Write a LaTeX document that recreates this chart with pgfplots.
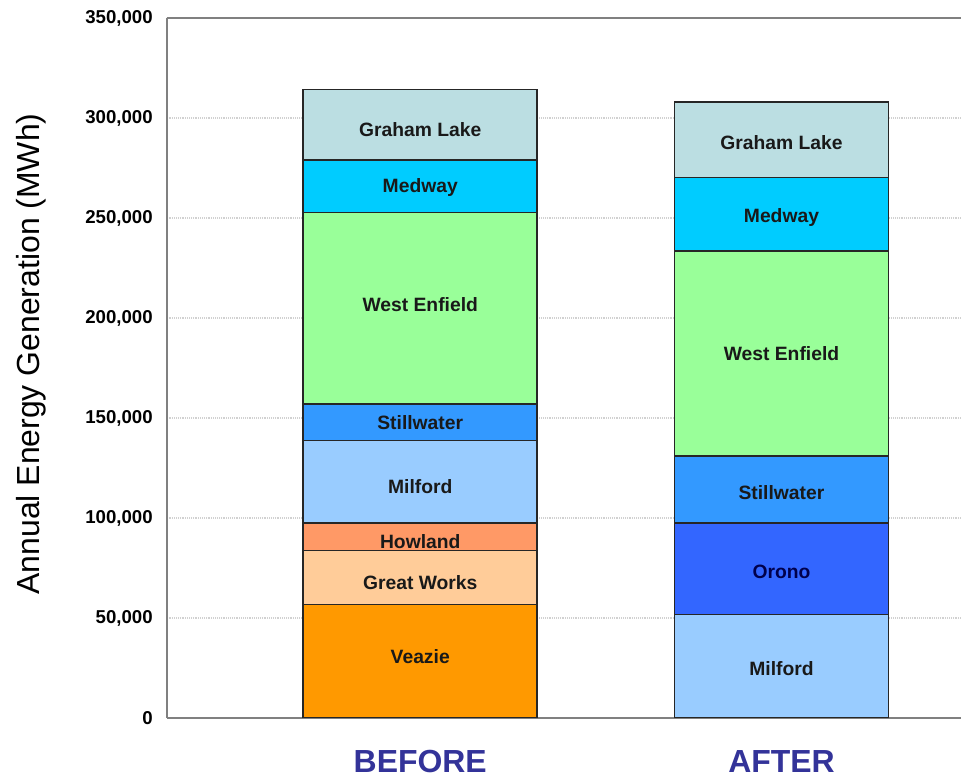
\documentclass[border=0pt]{standalone}
\usepackage{fontspec}
\setmainfont{Liberation Sans}
\usepackage{pgfplots}
\pgfplotsset{compat=1.18}

\definecolor{cGraham}{RGB}{187,222,226}
\definecolor{cMedway}{RGB}{0,204,255}
\definecolor{cEnfield}{RGB}{153,255,153}
\definecolor{cStill}{RGB}{51,153,255}
\definecolor{cMilford}{RGB}{153,204,255}
\definecolor{cHowland}{RGB}{255,153,102}
\definecolor{cGreat}{RGB}{255,204,153}
\definecolor{cVeazie}{RGB}{255,153,0}
\definecolor{cOrono}{RGB}{51,102,255}
\definecolor{cCat}{RGB}{51,51,153}

\newcommand{\lbl}{\fontsize{14.5}{16}\selectfont\bfseries}

\pgfplotsset{
  panel/.style={
    width=597pt, height=526.1pt, scale only axis,
    xmin=-0.702, xmax=1.497, ymin=0, ymax=350000,
    ybar stacked,
    every axis plot/.append style={draw=black!85, line width=1.3pt},
  }
}

\begin{document}
\begin{tikzpicture}
% BEFORE bar, axes and labels
\begin{axis}[
  panel,
  bar width=0.648,
  axis x line=box, axis y line=left,
  axis line style={-, draw=gray, line width=1.5pt},
  major tick length=0pt,
  ytick={0,50000,100000,150000,200000,250000,300000,350000},
  scaled y ticks=false,
  /pgf/number format/fixed,
  /pgf/number format/precision=0,
  /pgf/number format/1000 sep={,},
  /pgf/number format/assume math mode=true,
  yticklabel style={font=\fontsize{14}{16}\selectfont\bfseries, xshift=-7pt},
  ymajorgrids, grid style={densely dotted, black!18, line width=0.8pt},
  xtick={0,1}, xticklabels={BEFORE,\raisebox{-3pt}{AFTER}},
  xticklabel style={font=\fontsize{24}{27}\selectfont\bfseries, text=cCat, yshift=-21pt},
  ylabel={Annual Energy Generation (MWh)},
  every axis y label/.style={at={(axis description cs:-0.170,0.52)}, rotate=90,
    anchor=center, font=\fontsize{24}{28}\selectfont},
]
\addplot[fill=cVeazie]  coordinates {(0,56700)};
\addplot[fill=cGreat]   coordinates {(0,27100)};
\addplot[fill=cHowland] coordinates {(0,13800)};
\addplot[fill=cMilford] coordinates {(0,41100)};
\addplot[fill=cStill]   coordinates {(0,18300)};
\addplot[fill=cEnfield] coordinates {(0,95700)};
\addplot[fill=cMedway]  coordinates {(0,26300)};
\addplot[fill=cGraham]  coordinates {(0,35300)};
\coordinate (b1) at (axis cs:0,294300);
\coordinate (b2) at (axis cs:0,265400);
\coordinate (b3) at (axis cs:0,206900);
\coordinate (b4) at (axis cs:0,147500);
\coordinate (b5) at (axis cs:0,115500);
\coordinate (b6) at (axis cs:0,88100);
\coordinate (b7) at (axis cs:0,67600);
\coordinate (b8) at (axis cs:0,30700);
\coordinate (bl) at (rel axis cs:-0.2098,-0.0877);
\coordinate (tr) at (rel axis cs:1.0,1.0257);
\end{axis}
% AFTER bar
\begin{axis}[panel, bar width=0.593, hide axis]
\addplot[fill=cMilford] coordinates {(1,51700)};
\addplot[fill=cOrono]   coordinates {(1,45800)};
\addplot[fill=cStill]   coordinates {(1,33400)};
\addplot[fill=cEnfield] coordinates {(1,102600)};
\addplot[fill=cMedway]  coordinates {(1,36700)};
\addplot[fill=cGraham]  coordinates {(1,37900)};
\coordinate (a1) at (axis cs:1,287800);
\coordinate (a2) at (axis cs:1,250400);
\coordinate (a3) at (axis cs:1,182000);
\coordinate (a4) at (axis cs:1,112600);
\coordinate (a5) at (axis cs:1,73000);
\coordinate (a6) at (axis cs:1,24700);
\end{axis}
\begin{scope}[every node/.style={font=\lbl, text=black!90}]
\node at (b1) {Graham Lake};
\node at (b2) {Medway};
\node at (b3) {West Enfield};
\node at (b4) {Stillwater};
\node at (b5) {Milford};
\node at (b6) {Howland};
\node at (b7) {Great Works};
\node at (b8) {Veazie};
\node at (a1) {Graham Lake};
\node at (a2) {Medway};
\node at (a3) {West Enfield};
\node at (a4) {Stillwater};
\node[text=black!70!blue] at (a5) {Orono};
\node at (a6) {Milford};
\end{scope}
\pgfresetboundingbox
\path (bl) rectangle (tr);
\end{tikzpicture}
\end{document}
